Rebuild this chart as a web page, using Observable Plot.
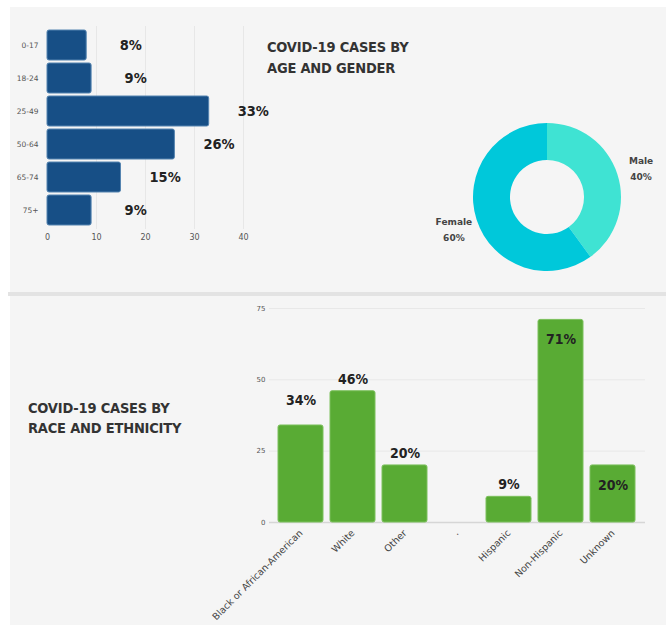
<!DOCTYPE html>
<html><head><meta charset="utf-8">
<script src="https://cdn.jsdelivr.net/npm/d3@7"></script>
<script src="https://cdn.jsdelivr.net/npm/@observablehq/plot@0.6"></script>
<style>
body{margin:0;background:#fff;}
#wrap{position:relative;width:666px;height:625px;overflow:hidden;font-family:"DejaVu Sans Condensed","DejaVu Sans",sans-serif;}
#panel{position:absolute;left:10px;top:7px;width:656px;height:618px;background:#f5f5f5;}
#sep{position:absolute;left:8px;top:292px;width:658px;height:4px;background:#e3e3e3;}
.title{position:absolute;font-weight:bold;font-size:14.5px;color:#333;white-space:nowrap;letter-spacing:-0.2px;}
.chart{position:absolute;}
.chart svg{background:transparent;}
</style></head>
<body><div id="wrap">
<div id="panel"></div>
<div id="sep"></div>
<div class="title" id="t1" style="left:267px;top:37px;line-height:21px;">COVID-19 CASES BY<br>AGE AND GENDER</div>
<div class="title" id="t2" style="left:28px;top:398px;line-height:20px;">COVID-19 CASES BY<br>RACE AND ETHNICITY</div>
<div class="chart" id="age" style="left:0px;top:0px;"></div>
<div class="chart" id="donut" style="left:420px;top:100px;"></div>
<div class="chart" id="race" style="left:200px;top:295px;"></div>
</div>
<script>
// ---- data ----
const ageGroups = ["0-17", "18-24", "25-49", "50-64", "65-74", "75+"];
const agePct = [8, 9, 33, 26, 15, 9];
const ageTicks = [0, 10, 20, 30, 40];

const genders = ["Male", "Female"];
const genderPct = [40, 60];

const raceCats = ["Black or African-American", "White", "Other", ".", "Hispanic", "Non-Hispanic", "Unknown"];
const racePct = [34, 46, 20, null, 9, 71, 20];
const raceTicks = [0, 25, 50, 75];

// ---- age bar chart ----
const ageData = ageGroups.map((g, i) => ({group: g, value: agePct[i]}));
const ageChart = Plot.plot({
  width: 280, height: 250,
  marginLeft: 47, marginRight: 37, marginTop: 26, marginBottom: 21,
  style: {background: "transparent", fontFamily: "DejaVu Sans", color: "#555"},
  x: {domain: [0, 40], label: null, axis: null},
  y: {domain: ageGroups, padding: 0.1, label: null, axis: null},
  marks: [
    Plot.ruleX(ageTicks.slice(1), {stroke: "#e7e7e7", strokeWidth: 1}),
    Plot.barX(ageData, {x: "value", y: "group", fill: "#174f86", stroke: "#5584b0", strokeWidth: 1, rx: 2}),
    Plot.axisX({ticks: ageTicks, tickSize: 0, tickPadding: 5, fontSize: 8, fill: "#555", label: null}),
    Plot.axisY({tickSize: 0, tickPadding: 9, fontSize: 7.5, fill: "#555", label: null}),
    Plot.text(ageData, {x: d => d.value + 9, y: "group", text: d => d.value + "%",
      fontSize: 14.5, fontWeight: "bold", fill: "#222", fontFamily: "DejaVu Sans Condensed"})
  ]
});
document.getElementById("age").appendChild(ageChart);

// ---- donut ----
const pieArcs = d3.pie().sort(null).value(d => d)(genderPct);
const donutData = genders.map((g, i) => ({
  gender: g, pct: genderPct[i],
  start: pieArcs[i].startAngle, end: pieArcs[i].endAngle,
  mid: (pieArcs[i].startAngle + pieArcs[i].endAngle) / 2
}));
const donutColors = {Male: "#3fe3d3", Female: "#00c8da"};
const donutChart = Plot.plot({
  width: 246, height: 190, margin: 0,
  style: {background: "transparent"},
  x: {domain: [-1.716, 1.608], axis: null},
  y: {domain: [-1.257, 1.311], axis: null},
  marks: [
    (index, scales) => {
      const cx = scales.x(0), cy = scales.y(0);
      const r = scales.x(1) - scales.x(0);
      const g = d3.create("svg:g").attr("transform", `translate(${cx},${cy})`);
      const arc = d3.arc().innerRadius(r * 0.5).outerRadius(r);
      g.selectAll("path").data(donutData).join("path")
        .attr("d", d => arc({startAngle: d.start, endAngle: d.end}))
        .attr("fill", d => donutColors[d.gender]);
      return g.node();
    },
    Plot.text(donutData, {
      x: d => 1.33 * Math.sin(d.mid), y: d => 1.33 * Math.cos(d.mid),
      text: d => d.gender + "\n" + d.pct + "%",
      fontSize: 9, fontWeight: "bold", fill: "#444", lineHeight: 1.75, fontFamily: "DejaVu Sans"
    })
  ]
});
document.getElementById("donut").appendChild(donutChart);

// ---- race / ethnicity bar chart ----
const raceData = raceCats.map((c, i) => ({cat: c, value: racePct[i]}));
const valid = raceData.filter(d => d.value != null);
const inside = new Set(["Non-Hispanic", "Unknown"]);
const raised = new Set(["Black or African-American"]);
const raceChart = Plot.plot({
  width: 466, height: 330,
  marginLeft: 69, marginRight: 21, marginTop: 13, marginBottom: 103,
  style: {background: "transparent", fontFamily: "DejaVu Sans", color: "#555"},
  x: {domain: raceCats, padding: 0.127, label: null, axis: null},
  y: {domain: [0, 75], label: null, axis: null},
  marks: [
    Plot.ruleY(raceTicks.slice(1), {stroke: "#e8e8e8"}),
    Plot.ruleY([0], {stroke: "#d6d6d6", strokeWidth: 1.5}),
    Plot.barY(valid, {x: "cat", y: "value", fill: "#59ab34", stroke: "#7cc05c", strokeWidth: 1, rx: 2}),
    Plot.axisY({ticks: raceTicks, tickSize: 0, tickPadding: 4, fontSize: 7, fill: "#555", label: null}),
    Plot.axisX({tickRotate: -45, tickSize: 0, tickPadding: 9, fontSize: 9.5, fill: "#444", label: null}),
    Plot.text(valid.filter(d => !inside.has(d.cat) && !raised.has(d.cat)), {x: "cat", y: "value", dy: -12,
      text: d => d.value + "%", fontSize: 14, fontWeight: "bold", fill: "#222", fontFamily: "DejaVu Sans Condensed"}),
    Plot.text(valid.filter(d => raised.has(d.cat)), {x: "cat", y: "value", dy: -25,
      text: d => d.value + "%", fontSize: 14, fontWeight: "bold", fill: "#222", fontFamily: "DejaVu Sans Condensed"}),
    Plot.text(valid.filter(d => inside.has(d.cat)), {x: "cat", y: "value", dy: 20,
      text: d => d.value + "%", fontSize: 14, fontWeight: "bold", fill: "#222", fontFamily: "DejaVu Sans Condensed"})
  ]
});
document.getElementById("race").appendChild(raceChart);
</script>
</body></html>
